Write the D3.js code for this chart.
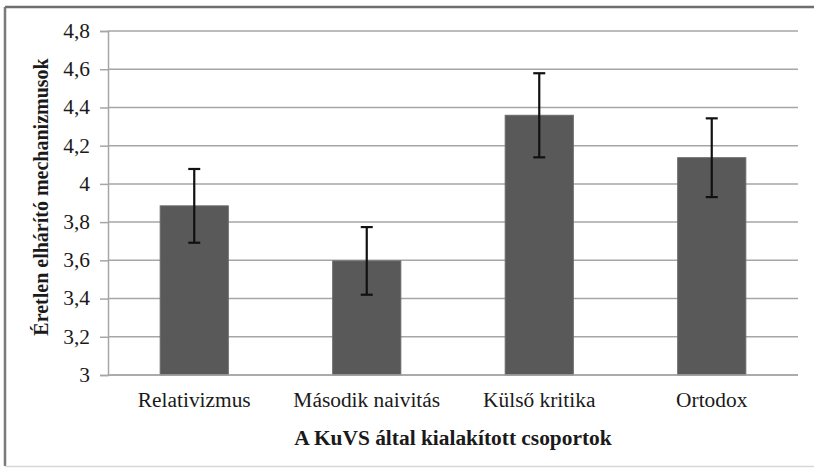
<!DOCTYPE html>
<html>
<head>
<meta charset="utf-8">
<script src="https://cdn.jsdelivr.net/npm/d3@7/dist/d3.min.js"></script>
<style>
  html, body { margin: 0; padding: 0; background: #fff; }
  svg { display: block; }
</style>
</head>
<body>
<svg id="chart" width="814" height="468"></svg>
<script>
const categories = ["Relativizmus", "Második naivitás", "Külső kritika", "Ortodox"];
const means = [3.885, 3.597, 4.359, 4.137];
const errors = [0.193, 0.177, 0.220, 0.206];
const yTicks = [3, 3.2, 3.4, 3.6, 3.8, 4, 4.2, 4.4, 4.6, 4.8];
const yTickLabels = ["3", "3,2", "3,4", "3,6", "3,8", "4", "4,2", "4,4", "4,6", "4,8"];
const xTitle = "A KuVS által kialakított csoportok";
const yTitle = "Éretlen elhárító mechanizmusok";

const FONT = "'Liberation Serif', 'Times New Roman', serif";
const SX = 1.07; // horizontal stretch of the reference text
const svg = d3.select("#chart");
const W = 814, H = 468;
const m = { left: 108, right: 16, top: 31, bottom: 93 };

// outer frame
svg.append("line").attr("x1", 5).attr("x2", W).attr("y1", 7).attr("y2", 7)
  .attr("stroke", "#6e6e6e").attr("stroke-width", 2.5);
svg.append("line").attr("x1", 5).attr("x2", 5).attr("y1", 7).attr("y2", 466)
  .attr("stroke", "#7a7a7a").attr("stroke-width", 2.5);
svg.append("line").attr("x1", 5).attr("x2", W).attr("y1", 466.5).attr("y2", 466.5)
  .attr("stroke", "#d8d8d8").attr("stroke-width", 1.5);

const x = d3.scaleBand().domain(categories)
  .range([m.left, W - m.right])
  .paddingInner(0.605).paddingOuter(0.3025);
const y = d3.scaleLinear().domain([3, 4.8]).range([H - m.bottom, m.top]);

// gridlines
svg.append("g").selectAll("line").data(yTicks).join("line")
  .attr("x1", m.left).attr("x2", W - m.right)
  .attr("y1", d => y(d)).attr("y2", d => y(d))
  .attr("stroke", "#a6a6a6").attr("stroke-width", 1.5);

// y axis
const yAxis = d3.axisLeft(y).tickValues(yTicks)
  .tickFormat((d, i) => yTickLabels[i]).tickSize(8).tickPadding(10);
const gy = svg.append("g").attr("transform", `translate(${m.left},0)`).call(yAxis)
  .attr("font-family", FONT).attr("font-size", 20);
gy.select(".domain").attr("stroke", "#a6a6a6").attr("stroke-width", 1.5);
gy.selectAll(".tick line").attr("stroke", "#a6a6a6").attr("stroke-width", 1.5);
gy.selectAll(".tick text").attr("fill", "#1a1a1a")
  .style("font-family", FONT).style("font-size", "20px")
  .attr("transform", `translate(-18,0) scale(${SX},1) translate(18,0)`);

// bars
svg.append("g").selectAll("rect").data(categories).join("rect")
  .attr("x", d => x(d)).attr("width", x.bandwidth())
  .attr("y", (d, i) => y(means[i]))
  .attr("height", (d, i) => y(3) - y(means[i]))
  .attr("fill", "#595959").attr("stroke", "#6a6a6a").attr("stroke-width", 1);

// x axis baseline
svg.append("line").attr("x1", m.left).attr("x2", W - m.right)
  .attr("y1", y(3)).attr("y2", y(3)).attr("stroke", "#a6a6a6").attr("stroke-width", 1.5);

// error bars
const eb = svg.append("g").attr("stroke", "#111").attr("stroke-width", 2.2);
categories.forEach((c, i) => {
  const cx = x(c) + x.bandwidth() / 2;
  const top = y(means[i] + errors[i]), bot = y(means[i] - errors[i]);
  eb.append("line").attr("x1", cx).attr("x2", cx).attr("y1", top).attr("y2", bot);
  eb.append("line").attr("x1", cx - 6).attr("x2", cx + 6).attr("y1", top).attr("y2", top);
  eb.append("line").attr("x1", cx - 6).attr("x2", cx + 6).attr("y1", bot).attr("y2", bot);
});

// category labels
svg.append("g").selectAll("text").data(categories).join("text")
  .attr("transform", d => `translate(${x(d) + x.bandwidth() / 2},407) scale(${SX},1)`)
  .attr("text-anchor", "middle").attr("fill", "#1a1a1a")
  .style("font-family", FONT).style("font-size", "20px")
  .text(d => d);

// axis titles
svg.append("text")
  .attr("transform", `translate(${(m.left + W - m.right) / 2},445) scale(${SX},1)`)
  .attr("text-anchor", "middle").attr("font-weight", "bold")
  .style("font-family", FONT).style("font-size", "20px")
  .attr("fill", "#1a1a1a").text(xTitle);
svg.append("text").attr("transform", `translate(48,${(y(3) + y(4.8)) / 2 - 6}) rotate(-90)`)
  .attr("text-anchor", "middle").attr("font-weight", "bold")
  .style("font-family", FONT).style("font-size", "20px")
  .attr("fill", "#1a1a1a").text(yTitle);
</script>
</body>
</html>
